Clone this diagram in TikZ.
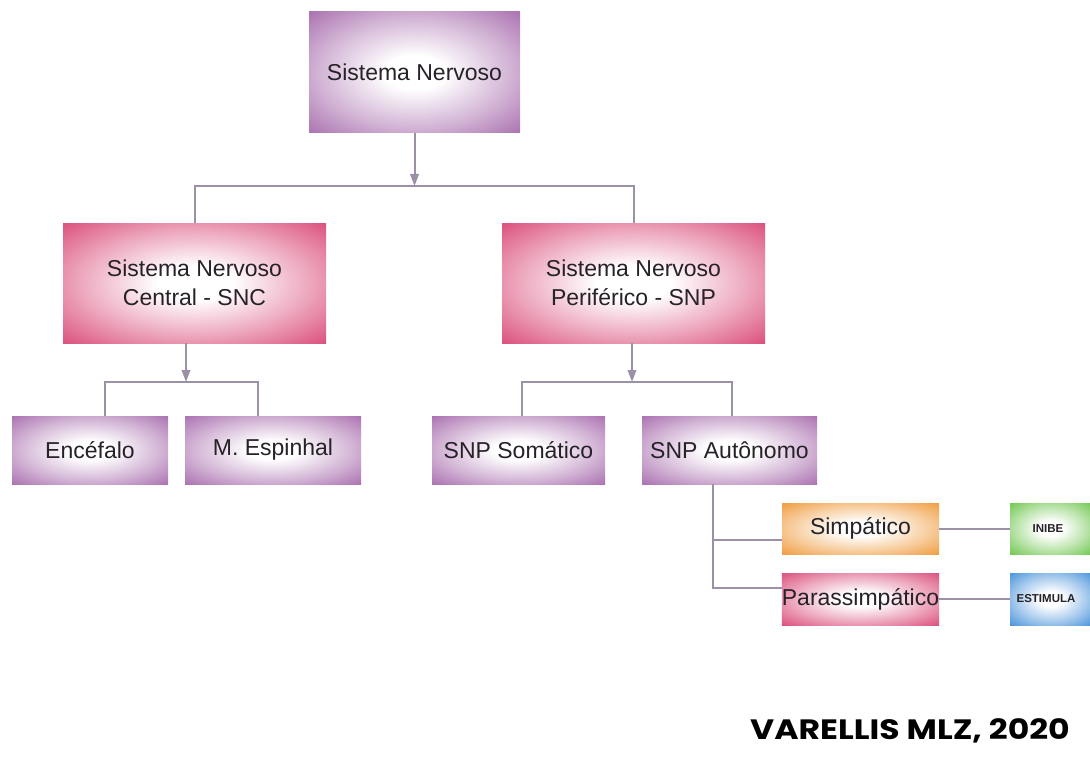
\documentclass[tikz,border=0pt]{standalone}
\usepackage{fontspec}
\setmainfont{Liberation Sans}
\newfontfamily\signfont{Poppins}
\usetikzlibrary{arrows.meta}

\definecolor{purp}{RGB}{160,96,166}
\definecolor{rose}{RGB}{214,58,108}
\definecolor{amber}{RGB}{238,144,40}
\definecolor{leaf}{RGB}{96,192,60}
\definecolor{sky}{RGB}{52,134,214}
\definecolor{wire}{RGB}{156,144,166}
\definecolor{ink}{RGB}{38,34,40}

% white glow in the middle, box colour towards the edges
\pgfdeclareradialshading[glowc]{glow}{\pgfpoint{0bp}{0bp}}{%
  color(0bp)=(white); color(7bp)=(white); color(22bp)=(glowc!45!white);
  color(36bp)=(glowc!90!white); color(48bp)=(glowc); color(72bp)=(glowc!88!black)}

\tikzset{
  box/.style={rectangle, /utils/exec={\colorlet{glowc}{#1}}, shading=glow,
    text=ink, align=center, inner sep=0pt,
    font=\fontsize{23}{29}\selectfont},
  tag/.style={box=#1, font=\fontsize{11.5}{14}\selectfont\bfseries},
  link/.style={draw=wire, line width=2pt},
  arr/.style={link, -{Triangle[length=12pt,width=8.5pt]}},
}

\begin{document}
\begin{tikzpicture}[x=1pt,y=-1pt]
\useasboundingbox (0,0) rectangle (1090,757);
\clip (0,0) rectangle (1090,757);
\fill[white] (0,0) rectangle (1090,757);

% boxes
\node[box=purp, minimum width=211pt, minimum height=121pt] (sn) at (414.5,72.5) {Sistema Nervoso};
\node[box=rose, minimum width=263pt, minimum height=120pt] (snc) at (194.5,283) {Sistema Nervoso\\Central - SNC};
\node[box=rose, minimum width=263pt, minimum height=120pt] (snp) at (633.5,283) {Sistema Nervoso\\Perif\'erico - SNP};

\node[box=purp, minimum width=156pt, minimum height=68pt] (enc) at (90,450) {Enc\'efalo};
\node[box=purp, minimum width=176pt, minimum height=68pt] (esp) at (273,450) {M. Espinhal};
\node[box=purp, minimum width=173pt, minimum height=68pt] (som) at (518.5,450) {SNP Som\'atico};
\node[box=purp, minimum width=175pt, minimum height=68pt] (aut) at (729.5,450) {SNP Aut\^onomo};

\node[box=amber, minimum width=157pt, minimum height=51pt] (simp) at (860.5,528.5) {Simp\'atico};
\node[box=rose, minimum width=157pt, minimum height=52pt] (para) at (860.5,599) {Parassimp\'atico};

\node[tag=leaf, minimum width=82pt, minimum height=51pt, text width=82pt] (inibe) at (1051,528.5) {\hspace*{-6pt}INIBE};
\node[tag=sky, minimum width=82pt, minimum height=52pt, text width=82pt] (estim) at (1051,599) {\hspace*{-10pt}ESTIMULA};

% connectors
\coordinate (top) at (414.5,186);
\draw[arr] (sn.south) -- (top);
\draw[link] (snc.north) |- (top) -| (snp.north);

\coordinate (b1) at (186,382);
\draw[arr] (b1 |- snc.south) -- (b1);
\draw[link] ([xshift=15pt]enc.north) |- (b1) -| ([xshift=-15pt]esp.north);

\coordinate (b2) at (632,382);
\draw[arr] (b2 |- snp.south) -- (b2);
\draw[link] ([xshift=3pt]som.north) |- (b2) -| ([xshift=2pt]aut.north);

\coordinate (trunk) at ([xshift=-17pt]aut.south);
\draw[link] (trunk) |- ([yshift=-11.5pt]simp.west);
\draw[link] (trunk) |- ([yshift=11pt]para.west);

\draw[link] (simp.east) -- (inibe.west);
\draw[link] (para.east) -- (estim.west);

% credit line
\node[font=\signfont\bfseries\fontsize{28}{30}\selectfont, text=black,
  xscale=1.18, transform shape] (credit) at (910,731) {VARELLIS MLZ, 2020};
\end{tikzpicture}
\end{document}
